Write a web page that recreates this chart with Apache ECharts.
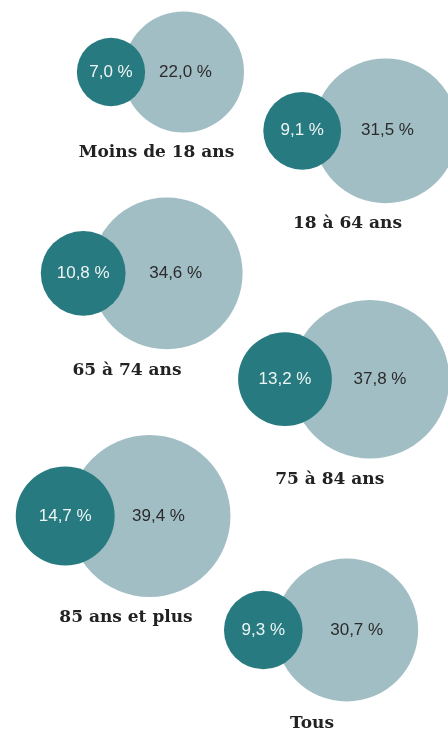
<!DOCTYPE html>
<html>
<head>
	<meta charset="utf-8">
	<title>Cercles par âge</title>
	<script src="https://cdn.jsdelivr.net/npm/echarts@6/dist/echarts.min.js"></script>
	<style>
		html, body { margin: 0; padding: 0; background: #fff; }
		#chart { width: 448px; height: 733px; }
	</style>
</head>
<body>
<div id="chart"></div>
<script>
// données
var categories = ['Moins de 18 ans', '18 à 64 ans', '65 à 74 ans', '75 à 84 ans', '85 ans et plus', 'Tous'];
var valuesSmall = [7.0, 9.1, 10.8, 13.2, 14.7, 9.3];
var valuesBig = [22.0, 31.5, 34.6, 37.8, 39.4, 30.7];

// mise en page de chaque paire (pixels)
var labelX = [156.5, 347.5, 127, 329.7, 126, 312];
var circleY = [71, 130.8, 273.3, 379.2, 516, 630];
var labelY = [152, 223, 370, 479, 617.5, 723];
var bigX = [183.5, 385.5, 166.7, 370, 149.5, 346.7];
var smallX = [111, 302.2, 83.2, 285, 65.2, 263.3];
var bigTextDx = [2, 2, 9, 10, 9, 10];

var K = 12.9; // rayon par racine de pourcentage
var numFont = "'Liberation Sans Narrow', 'Arial Narrow', 'Liberation Sans', sans-serif";

function fmt(v) {
	return v.toFixed(1).replace('.', ',') + ' %';
}

var grids = [], xAxes = [], yAxes = [], series = [];

for (var i = 0; i < categories.length; i++) {
	var bottom = labelY[i] - 8;
	var h = 2 * (bottom - circleY[i]);
	grids.push({ left: labelX[i] - 100, width: 200, top: circleY[i] - h / 2, height: h });
	xAxes.push({
		type: 'category',
		gridIndex: i,
		data: [categories[i]],
		axisLine: { show: false },
		axisTick: { show: false },
		splitLine: { show: false },
		axisLabel: {
			margin: 0,
			color: '#222',
			fontFamily: 'DejaVu Serif',
			fontWeight: 'bold',
			fontSize: 17
		}
	});
	yAxes.push({ type: 'value', gridIndex: i, min: -1, max: 1, show: false });

	// grand cercle
	series.push({
		type: 'scatter',
		name: 'grand',
		xAxisIndex: i,
		yAxisIndex: i,
		clip: false,
		silent: true,
		z: 2,
		itemStyle: { color: '#a2bec5', opacity: 1 },
		label: {
			show: true,
			position: 'inside',
			offset: [bigTextDx[i], 0],
			color: '#2b2b2b',
			fontFamily: numFont,
			fontSize: 17,
			formatter: function (p) { return fmt(p.value[2]); }
		},
		data: [{
			value: [categories[i], 0, valuesBig[i]],
			symbolSize: 2 * K * Math.sqrt(valuesBig[i]),
			symbolOffset: [bigX[i] - labelX[i], 0]
		}]
	});
	// petit cercle
	series.push({
		type: 'scatter',
		name: 'petit',
		xAxisIndex: i,
		yAxisIndex: i,
		clip: false,
		silent: true,
		z: 3,
		itemStyle: { color: '#277b80', opacity: 1 },
		label: {
			show: true,
			position: 'inside',
			color: '#eef4f4',
			fontFamily: numFont,
			fontSize: 17,
			formatter: function (p) { return fmt(p.value[2]); }
		},
		data: [{
			value: [categories[i], 0, valuesSmall[i]],
			symbolSize: 2 * K * Math.sqrt(valuesSmall[i]),
			symbolOffset: [smallX[i] - labelX[i], 0]
		}]
	});
}

var myChart = echarts.init(document.getElementById('chart'));
myChart.setOption({
	backgroundColor: '#fff',
	animation: false,
	grid: grids,
	xAxis: xAxes,
	yAxis: yAxes,
	series: series
});
</script>
</body>
</html>
